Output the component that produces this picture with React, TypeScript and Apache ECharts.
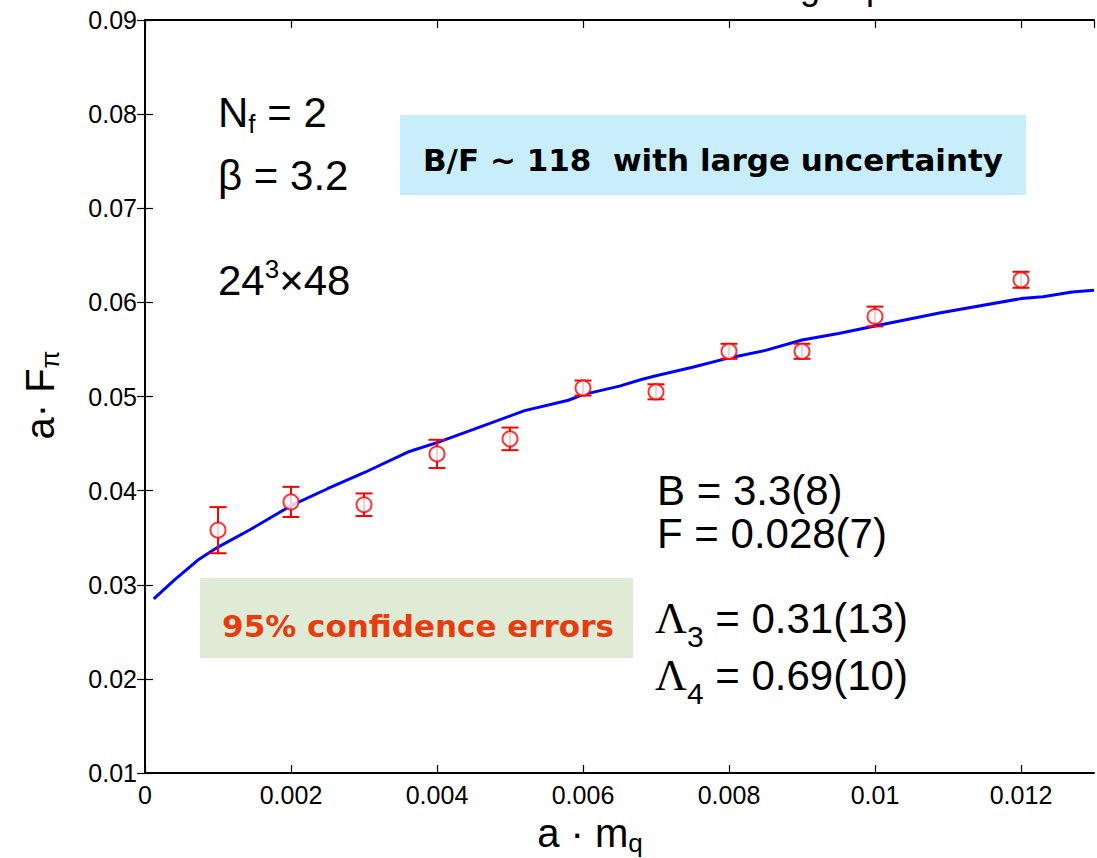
import React, { useEffect, useRef } from "react";
import * as echarts from "echarts";

// Data points (a·m_q, a·F_pi, half error)
const massValues = [0.001, 0.002, 0.003, 0.004, 0.005, 0.006, 0.007, 0.008, 0.009, 0.010, 0.012];
const fpiValues = [0.0358, 0.0388, 0.0385, 0.0439, 0.0455, 0.0509, 0.0505, 0.0548, 0.0548, 0.0585, 0.0624];
const fpiErrors = [0.00245, 0.0016, 0.0012, 0.0015, 0.0012, 0.0008, 0.0008, 0.0008, 0.0008, 0.00105, 0.00085];

// Fit curve
const fitX = [0.00012, 0.0004, 0.00072, 0.001, 0.00145, 0.002, 0.0025, 0.003, 0.0036, 0.004, 0.0045, 0.0052, 0.0058, 0.006, 0.0065, 0.0068, 0.007, 0.0075, 0.008, 0.0085, 0.009, 0.0095, 0.010, 0.0109, 0.012, 0.0123, 0.0127, 0.013];
const fitY = [0.0285, 0.0305, 0.0326, 0.0340, 0.0359, 0.0384, 0.0402, 0.0419, 0.0441, 0.0451, 0.0465, 0.0485, 0.0496, 0.0502, 0.0511, 0.0518, 0.0522, 0.0531, 0.0541, 0.0549, 0.0560, 0.0567, 0.0575, 0.0589, 0.0604, 0.0606, 0.0611, 0.0613];

const xTicks = { min: 0, max: 0.013, interval: 0.002 };
const yTicks = { min: 0.01, max: 0.09, interval: 0.01 };

const FONT = "'Liberation Sans', Arial, Helvetica, sans-serif";
const SERIF = "'Liberation Serif', 'Times New Roman', serif";
const COMIC = "'DejaVu Sans', sans-serif";

export default function App() {
  const ref = useRef<HTMLDivElement>(null);
  useEffect(() => {
    if (!ref.current) return;
    const chart = echarts.init(ref.current, undefined, { renderer: "svg" });
    const pts = massValues.map((m, i) => [m, fpiValues[i], fpiErrors[i]]);
    const fit = fitX.map((x, i) => [x, fitY[i]]);
    const axisLine = { show: true, lineStyle: { color: "#000", width: 2 } };
    const tick = { show: true, inside: true, length: 8, lineStyle: { color: "#000", width: 1.2 } };
    const big = { fontFamily: FONT, fontSize: 42, fill: "#000", color: "#000" };
    chart.setOption({
      animation: false,
      backgroundColor: "#fff",
      grid: { left: 145, right: 3, top: 20, bottom: 85, containLabel: false },
      xAxis: [
        {
          type: "value", ...xTicks, position: "bottom",
          axisLine, axisTick: tick, splitLine: { show: false },
          axisLabel: {
            color: "#000", fontFamily: FONT, fontSize: 25, margin: 9,
            showMaxLabel: false,
            formatter: (v: number) => (v === 0 ? "0" : String(+v.toFixed(3))),
          },
        },
        {
          type: "value", ...xTicks, position: "top",
          axisLine, axisTick: tick, splitLine: { show: false }, axisLabel: { show: false },
        },
      ],
      yAxis: [
        {
          type: "value", ...yTicks, position: "left",
          axisLine, axisTick: tick, splitLine: { show: false },
          axisLabel: {
            color: "#000", fontFamily: FONT, fontSize: 25, margin: 8,
            formatter: (v: number) => v.toFixed(2),
          },
        },
        {
          type: "value", ...yTicks, position: "right",
          axisLine, axisTick: tick, splitLine: { show: false }, axisLabel: { show: false },
        },
      ],
      series: [
        {
          type: "line", data: fit, showSymbol: false, symbol: "none",
          lineStyle: { color: "#0000ff", width: 3 }, clip: true, z: 2,
        },
        {
          type: "custom", data: pts, z: 3,
          renderItem: (params: any, api: any) => {
            const x = api.value(0), y = api.value(1), e = api.value(2);
            const t = api.coord([x, y + e]);
            const b = api.coord([x, y - e]);
            const w = 8.5;
            const st = { stroke: "#ff0000", lineWidth: 2 };
            return {
              type: "group",
              children: [
                { type: "line", shape: { x1: t[0], y1: t[1], x2: b[0], y2: b[1] }, style: st },
                { type: "line", shape: { x1: t[0] - w, y1: t[1], x2: t[0] + w, y2: t[1] }, style: st },
                { type: "line", shape: { x1: b[0] - w, y1: b[1], x2: b[0] + w, y2: b[1] }, style: st },
              ],
            };
          },
        },
        {
          type: "scatter", data: pts.map((p) => [p[0], p[1]]), symbol: "emptyCircle", symbolSize: 15,
          itemStyle: { color: "#ff0000", borderColor: "#ff0000", borderWidth: 2 }, z: 4,
        },
      ],
      graphic: [
        { type: "rect", shape: { x: 400, y: 115, width: 626, height: 80 }, style: { fill: "#c9eefb" }, z: 0 },
        {
          type: "text", x: 713, y: 160, z: 1,
          style: { text: "B/F ~ 118  with large uncertainty", fontFamily: COMIC, fontWeight: "bold", fontSize: 31, fill: "#000", align: "center", verticalAlign: "middle" },
        },
        { type: "rect", shape: { x: 200, y: 578, width: 433, height: 80 }, style: { fill: "#dfebd5" }, z: 0 },
        {
          type: "text", x: 418, y: 626, z: 1,
          style: { text: "95% confidence errors", fontFamily: COMIC, fontWeight: "bold", fontSize: 31, fill: "#e63c10", align: "center", verticalAlign: "middle" },
        },
        {
          type: "text", x: 218, y: 112, z: 5,
          style: {
            text: "{n|N}{s|f}{n| = 2}", verticalAlign: "middle",
            rich: {
              n: big,
              s: { fontFamily: FONT, fontSize: 26, fill: "#000", color: "#000", verticalAlign: "bottom", padding: [24, 0, 0, 0] },
            },
          },
        },
        {
          type: "text", x: 218, y: 175, z: 5,
          style: { text: "β = 3.2", fontFamily: FONT, fontSize: 42, fill: "#000", verticalAlign: "middle" },
        },
        {
          type: "text", x: 218, y: 280, z: 5,
          style: {
            text: "{n|24}{s|3}{n|×48}", verticalAlign: "middle",
            rich: {
              n: big,
              s: { fontFamily: FONT, fontSize: 26, fill: "#000", color: "#000", verticalAlign: "top", padding: [0, 0, 22, 0] },
            },
          },
        },
        {
          type: "text", x: 657, y: 490, z: 5,
          style: { text: "B = 3.3(8)", fontFamily: FONT, fontSize: 42, fill: "#000", verticalAlign: "middle" },
        },
        {
          type: "text", x: 657, y: 533, z: 5,
          style: { text: "F = 0.028(7)", fontFamily: FONT, fontSize: 42, fill: "#000", verticalAlign: "middle" },
        },
        {
          type: "text", x: 655, y: 618, z: 5,
          style: {
            text: "{g|Λ}{s|3}{n| = 0.31(13)}", verticalAlign: "middle",
            rich: {
              g: { fontFamily: SERIF, fontSize: 44, fill: "#000", color: "#000" },
              n: big,
              s: { fontFamily: FONT, fontSize: 30, fill: "#000", color: "#000", verticalAlign: "bottom", padding: [36, 0, 0, 0] },
            },
          },
        },
        {
          type: "text", x: 655, y: 675, z: 5,
          style: {
            text: "{g|Λ}{s|4}{n| = 0.69(10)}", verticalAlign: "middle",
            rich: {
              g: { fontFamily: SERIF, fontSize: 44, fill: "#000", color: "#000" },
              n: big,
              s: { fontFamily: FONT, fontSize: 30, fill: "#000", color: "#000", verticalAlign: "bottom", padding: [36, 0, 0, 0] },
            },
          },
        },
        {
          type: "text", x: 40, y: 395, rotation: Math.PI / 2, z: 5,
          style: {
            text: "{n|a· F}{s|π}", align: "center", verticalAlign: "middle",
            rich: {
              n: { fontFamily: FONT, fontSize: 40, fill: "#000", color: "#000" },
              s: { fontFamily: FONT, fontSize: 26, fill: "#000", color: "#000", verticalAlign: "bottom", padding: [20, 0, 0, 0] },
            },
          },
        },
        {
          type: "text", x: 590, y: 833, z: 5,
          style: {
            text: "{n|a · m}{s|q}", align: "center", verticalAlign: "middle",
            rich: {
              n: { fontFamily: FONT, fontSize: 40, fill: "#000", color: "#000" },
              s: { fontFamily: FONT, fontSize: 26, fill: "#000", color: "#000", verticalAlign: "bottom", padding: [20, 0, 0, 0] },
            },
          },
        },
        {
          type: "text", x: 810, y: -14, z: 5,
          style: { text: "g", fontFamily: FONT, fontSize: 36, fill: "#000", align: "center", verticalAlign: "middle" },
        },
        {
          type: "text", x: 876, y: -14, z: 5,
          style: { text: "p", fontFamily: FONT, fontSize: 36, fill: "#000", align: "center", verticalAlign: "middle" },
        },
      ],
    });
    return () => chart.dispose();
  }, []);
  return <div ref={ref} style={{ width: 1097, height: 858, position: "absolute", left: 0, top: 0 }} />;
}
